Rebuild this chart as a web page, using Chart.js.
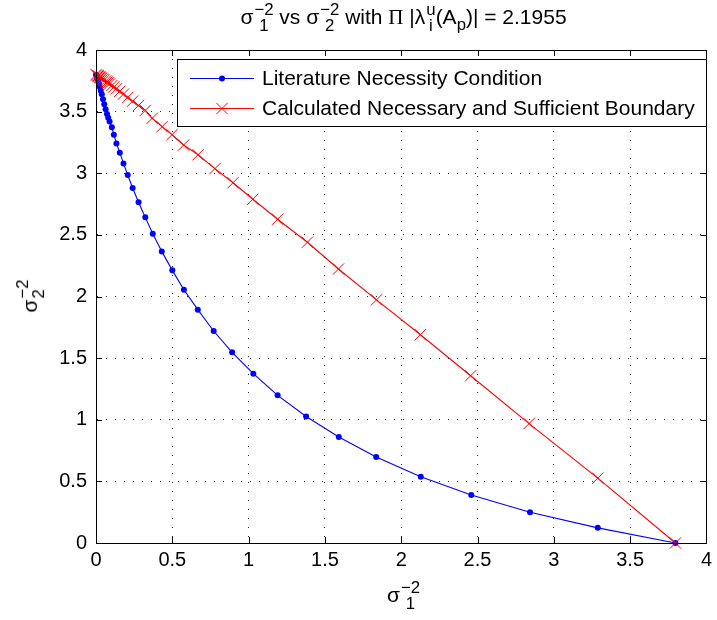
<!DOCTYPE html>
<html>
<head>
<meta charset="utf-8">
<script src="https://cdn.jsdelivr.net/npm/chart.js@4.4.1/dist/chart.umd.min.js"></script>
<style>
  html,body{margin:0;padding:0;background:#fff;}
  #wrap{position:relative;width:717px;height:620px;font-family:"Liberation Sans",Arial,sans-serif;color:#000;}
  canvas{position:absolute;left:0;top:0;}
  .lbl{position:absolute;white-space:nowrap;font-size:20px;line-height:1;}
  .ss{display:inline-flex;flex-direction:column;vertical-align:middle;font-size:0.8em;line-height:0.95;margin-left:1px;}
  .sb{display:inline-block;vertical-align:-0.4em;font-size:0.8em;line-height:1;}
  .pi{font-family:"Liberation Serif","DejaVu Serif",serif;}
</style>
</head>
<body>
<div id="wrap">
  <canvas id="c" width="717" height="620"></canvas>
  <div class="lbl" id="title" style="left:96px;width:615px;text-align:center;top:2px;font-size:21px;">σ<span class="ss"><span>−2</span><span>1</span></span> vs σ<span class="ss"><span>−2</span><span>2</span></span> with <span class="pi">Π</span> |λ<span class="ss"><span>u</span><span>i</span></span>(A<span class="sb">p</span>)| = 2.1955</div>
  <div class="lbl" id="xlabel" style="left:96px;width:615px;text-align:center;top:580px;font-size:21px;">σ<span class="ss"><span>−2</span><span>1</span></span></div>
  <div class="lbl" id="ylabel" style="left:31px;top:296px;font-size:21px;transform:translate(-50%,-50%) rotate(-90deg);">σ<span class="ss"><span>−2</span><span>2</span></span></div>
</div>
<script>
// ---- data ----
const litX = [0, 0.008, 0.014, 0.019, 0.025, 0.031, 0.038, 0.046, 0.054, 0.063, 0.072, 0.080, 0.089, 0.104, 0.117, 0.134, 0.156, 0.180, 0.208, 0.240, 0.279, 0.323, 0.372, 0.431, 0.500, 0.576, 0.667, 0.771, 0.892, 1.031, 1.190, 1.377, 1.591, 1.836, 2.128, 2.459, 2.844, 3.288, 3.797];
const litY = [3.80, 3.77, 3.75, 3.73, 3.70, 3.67, 3.64, 3.60, 3.56, 3.52, 3.48, 3.45, 3.42, 3.373, 3.313, 3.242, 3.167, 3.080, 2.986, 2.880, 2.765, 2.642, 2.510, 2.366, 2.212, 2.055, 1.893, 1.720, 1.547, 1.374, 1.198, 1.027, 0.860, 0.698, 0.537, 0.389, 0.250, 0.123, 0.0];
const bndX = [0, 0.008, 0.014, 0.019, 0.025, 0.031, 0.038, 0.046, 0.054, 0.063, 0.072, 0.080, 0.089, 0.104, 0.117, 0.134, 0.156, 0.180, 0.208, 0.240, 0.279, 0.323, 0.368, 0.433, 0.498, 0.574, 0.669, 0.779, 0.898, 1.028, 1.190, 1.385, 1.589, 1.838, 2.126, 2.455, 2.838, 3.288, 3.797];
const bndY = [3.80, 3.795, 3.79, 3.785, 3.78, 3.775, 3.77, 3.763, 3.756, 3.748, 3.74, 3.733, 3.725, 3.712, 3.70, 3.685, 3.665, 3.642, 3.615, 3.585, 3.55, 3.51, 3.446, 3.378, 3.313, 3.229, 3.150, 3.037, 2.923, 2.789, 2.627, 2.440, 2.223, 1.973, 1.690, 1.357, 0.969, 0.526, 0.0];
const xTickLabels = ['0', '0.5', '1', '1.5', '2', '2.5', '3', '3.5', '4'];
const yTickLabels = ['0', '0.5', '1', '1.5', '2', '2.5', '3', '3.5', '4'];
const seriesNames = ['Literature Necessity Condition', 'Calculated Necessary and Sufficient Boundary'];
const seriesColors = ['#0000ff', '#ff0000'];

const toPts = (xs, ys) => xs.map((x, i) => ({x: x, y: ys[i]}));
const FONT = '"Liberation Sans", Arial, sans-serif';

const frameTicks = {
  id: 'frameTicks',
  afterDraw(chart) {
    const {ctx, chartArea: a, scales} = chart;
    ctx.save();
    ctx.strokeStyle = '#000';
    ctx.lineWidth = 1;
    ctx.setLineDash([]);
    ctx.beginPath();
    ctx.rect(Math.round(a.left) + 0.5, Math.round(a.top) + 0.5, Math.round(a.right - a.left), Math.round(a.bottom - a.top));
    ctx.stroke();
    const L = 6;
    ctx.beginPath();
    scales.x.ticks.forEach(t => {
      const p = Math.round(scales.x.getPixelForValue(t.value)) + 0.5;
      ctx.moveTo(p, a.bottom); ctx.lineTo(p, a.bottom - L);
      ctx.moveTo(p, a.top); ctx.lineTo(p, a.top + L);
    });
    scales.y.ticks.forEach(t => {
      const p = Math.round(scales.y.getPixelForValue(t.value)) + 0.5;
      ctx.moveTo(a.left, p); ctx.lineTo(a.left + L, p);
      ctx.moveTo(a.right, p); ctx.lineTo(a.right - L, p);
    });
    ctx.stroke();
    ctx.restore();
  }
};

const boxLegend = {
  id: 'boxLegend',
  afterDraw(chart) {
    const ctx = chart.ctx;
    const bx = 177, by = 59, bw = 529, bh = 67;
    ctx.save();
    ctx.fillStyle = '#fff';
    ctx.fillRect(bx, by, bw, bh);
    ctx.strokeStyle = '#000';
    ctx.lineWidth = 1;
    ctx.strokeRect(bx + 0.5, by + 0.5, bw, bh);
    const rows = [78, 108];
    chart.data.datasets.forEach((ds, i) => {
      const y = rows[i] + 0.5;
      ctx.strokeStyle = ds.borderColor;
      ctx.lineWidth = 1;
      ctx.beginPath(); ctx.moveTo(190, y); ctx.lineTo(254, y); ctx.stroke();
      ctx.fillStyle = ds.pointBackgroundColor;
      ctx.strokeStyle = ds.pointBorderColor;
      if (ds.pointStyle === 'circle') {
        ctx.beginPath(); ctx.arc(222, y, ds.pointRadius, 0, Math.PI * 2); ctx.fill();
      } else {
        Chart.helpers.drawPoint(ctx, {pointStyle: ds.pointStyle, radius: ds.pointRadius, borderWidth: 1, rotation: 0}, 222, y);
      }
      ctx.fillStyle = '#000';
      ctx.font = '21px ' + FONT;
      ctx.textBaseline = 'middle';
      ctx.textAlign = 'left';
      ctx.fillText(ds.label, 262, y + 1);
    });
    ctx.restore();
  }
};

new Chart(document.getElementById('c'), {
  type: 'scatter',
  data: {
    datasets: [
      {
        label: seriesNames[0], data: toPts(litX, litY), showLine: true,
        borderColor: seriesColors[0], borderWidth: 1.1, pointStyle: 'circle', pointRadius: 3,
        pointBackgroundColor: seriesColors[0], pointBorderColor: seriesColors[0], pointBorderWidth: 0,
        clip: false, order: 2
      },
      {
        label: seriesNames[1], data: toPts(bndX, bndY), showLine: true,
        borderColor: seriesColors[1], borderWidth: 1.1, pointStyle: 'crossRot', pointRadius: 8,
        pointBackgroundColor: seriesColors[1], pointBorderColor: seriesColors[1], pointBorderWidth: 1,
        clip: false, order: 1
      }
    ]
  },
  options: {
    responsive: false, animation: false, devicePixelRatio: 1,
    layout: {padding: {left: 0, right: 6, top: 50, bottom: 0}},
    plugins: {legend: {display: false}, title: {display: false}, tooltip: {enabled: false}},
    scales: {
      x: {
        type: 'linear', min: 0, max: 4,
        ticks: {stepSize: 0.5, color: '#000', font: {family: FONT, size: 20}, padding: 5,
          callback: (v, i) => xTickLabels[i]},
        grid: {color: 'rgba(0,0,0,0.85)', lineWidth: 1, drawTicks: false},
        border: {display: true, color: '#000', width: 1, dash: [1, 8]},
        afterFit: s => { s.height = 77; }
      },
      y: {
        type: 'linear', min: 0, max: 4,
        ticks: {stepSize: 0.5, color: '#000', font: {family: FONT, size: 20}, padding: 9,
          callback: (v, i) => yTickLabels[i]},
        grid: {color: 'rgba(0,0,0,0.85)', lineWidth: 1, drawTicks: false},
        border: {display: true, color: '#000', width: 1, dash: [1, 8]},
        afterFit: s => { s.width = 96; }
      }
    }
  },
  plugins: [frameTicks, boxLegend]
});
</script>
</body>
</html>
